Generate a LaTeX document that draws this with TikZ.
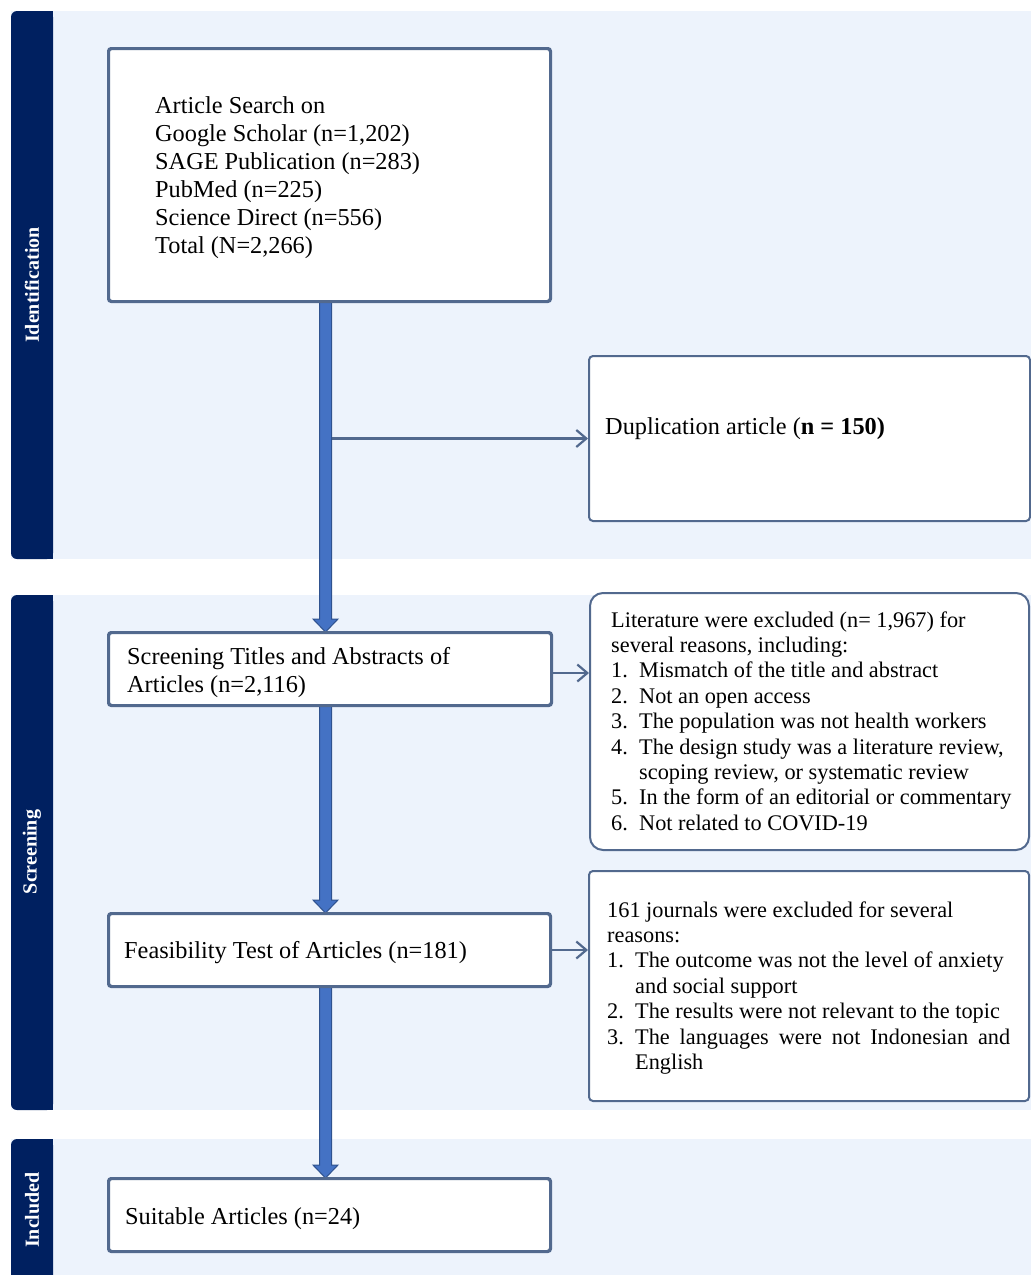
\documentclass[tikz,border=0pt]{standalone}
\usepackage{fontspec}
\setmainfont{Liberation Serif}
\usetikzlibrary{arrows.meta,calc}
\definecolor{band}{HTML}{EDF3FC}
\definecolor{navy}{HTML}{002060}
\definecolor{boxline}{HTML}{52698E}
\definecolor{arrowblue}{HTML}{4472C4}
\definecolor{arrowedge}{HTML}{2F528F}
\newcommand\listnum[1]{\makebox[28pt][l]{#1}}
\newcommand\fatarrow[2]{\filldraw[fatarrow] let \p1=(#1), \p2=(#2) in
  (\x1-6pt,\y1) -- (\x1-6pt,\y2+13pt) -- (\x1-12.5pt,\y2+13pt) -- (\x1,\y2)
  -- (\x1+12.5pt,\y2+13pt) -- (\x1+6pt,\y2+13pt) -- (\x1+6pt,\y1) -- cycle;}
\begin{document}
\begin{tikzpicture}[x=1pt,y=-1pt,
  box/.style={draw=boxline, line width=2pt, fill=white, rounded corners=3pt,
    anchor=north west, inner sep=0pt},
  bigtext/.style={anchor=base west, inner sep=0pt, font=\fontsize{24.3}{28}\selectfont},
  smalltext/.style={anchor=base west, inner sep=0pt, font=\fontsize{22.3}{25.4}\selectfont},
  sidelabel/.style={rotate=90, text=white, inner sep=0pt, font=\fontsize{20}{24}\selectfont\bfseries},
  thinarrow/.style={draw=boxline, line width=2.2pt, -{Straight Barb[length=10pt,width=17pt]}},
  fatarrow/.style={fill=arrowblue, draw=arrowedge, line width=1pt, line join=miter}]
\useasboundingbox (0,0) rectangle (1031,1275);
\fill[white] (0,0) rectangle (1031,1275);
% bands
\fill[band] (11,11) rectangle (1031,559);
\fill[band] (11,595) rectangle (1031,1110);
\fill[band] (11,1139) rectangle (1031,1275);
% sidebars
\fill[navy, rounded corners=6pt] (11,11) rectangle (53,559);
\fill[navy] (35,11) rectangle (53,559);
\fill[navy, rounded corners=6pt] (11,595) rectangle (53,1110);
\fill[navy] (35,595) rectangle (53,1110);
\fill[navy, rounded corners=6pt] (11,1139) rectangle (53,1290);
\fill[navy] (35,1139) rectangle (53,1275);
\node[sidelabel] (lid) at (32,285) {Identification};
\node[sidelabel] (lsc) at (32,852) {Screening};
\node[sidelabel] (lin) at (32,1210) {Included};
% axis of the main flow
\coordinate (axis) at (325.5,0);
% boxes (outlines defined first so connectors can refer to them)
\node[box, minimum width=441pt, minimum height=252pt] (b1) at (108,48) {};
\node[box, minimum width=441pt, minimum height=165pt, rounded corners=4pt] (b2) at (588,355) {};
\node[box, minimum width=442pt, minimum height=72pt] (b3) at (108,632) {};
\node[box, minimum width=439pt, minimum height=257pt, rounded corners=13pt] (b4) at (589,592) {};
\node[box, minimum width=441pt, minimum height=72pt] (b5) at (108,913) {};
\node[box, minimum width=440pt, minimum height=230pt, rounded corners=4pt] (b6) at (588,870) {};
\node[box, minimum width=441pt, minimum height=72pt] (b7) at (108,1178) {};
% thin connectors
\coordinate (a1s) at (b2.west -| axis);
\draw[thinarrow] (a1s) -- (b2.west);
\coordinate (a2s) at ($(b3.east)+(0,4)$);
\draw[thinarrow] (a2s) -- (a2s -| b4.west);
\draw[thinarrow] (b5.east) -- (b5.east -| b6.west);
% fat connectors
\fatarrow{b1.south -| axis}{b3.north -| axis}
\fatarrow{b3.south -| axis}{b5.north -| axis}
\fatarrow{b5.south -| axis}{b7.north -| axis}
% redraw box borders on top of shaft ends
\foreach \b in {b1,b3,b5,b7}{
  \draw[draw=boxline, line width=2pt, rounded corners=3pt] (\b.north west) rectangle (\b.south east);
}
% texts
\node[bigtext] (t1) at (155,113) {\parbox[t]{380pt}{\raggedright
  Article Search on\\
  Google Scholar (n=1,202)\\
  SAGE Publication (n=283)\\
  PubMed (n=225)\\
  Science Direct (n=556)\\
  Total (N=2,266)}};
\node[bigtext] (t2) at (605,434) {Duplication article (\textbf{n = 150)}};
\node[bigtext] (t3) at (127,664) {\parbox[t]{410pt}{\raggedright
  Screening Titles and Abstracts of\\
  Articles (n=2,116)}};
\node[smalltext] (t4) at (611,627) {\parbox[t]{415pt}{\raggedright
  Literature were excluded (n= 1,967) for\\
  several reasons, including:\\
  \listnum{1.}Mismatch of the title and abstract\\
  \listnum{2.}Not an open access\\
  \listnum{3.}The population was not health workers\\
  \listnum{4.}The design study was a literature review,\\
  \hspace*{28pt}scoping review, or systematic review\\
  \listnum{5.}In the form of an editorial or commentary\\
  \listnum{6.}Not related to COVID-19}};
\node[bigtext] (t5) at (124,958) {Feasibility Test of Articles (n=181)};
\node[smalltext] (t6) at (607,917) {\parbox[t]{415pt}{\raggedright
  161 journals were excluded for several\\
  reasons:\\
  \listnum{1.}The outcome was not the level of anxiety\\
  \hspace*{28pt}and social support\\
  \listnum{2.}The results were not relevant to the topic\\
  \listnum{3.}\makebox[375pt][s]{The languages were not Indonesian and}\\
  \hspace*{28pt}English}};
\node[bigtext] (t7) at (125,1224) {Suitable Articles (n=24)};
\end{tikzpicture}
\end{document}
